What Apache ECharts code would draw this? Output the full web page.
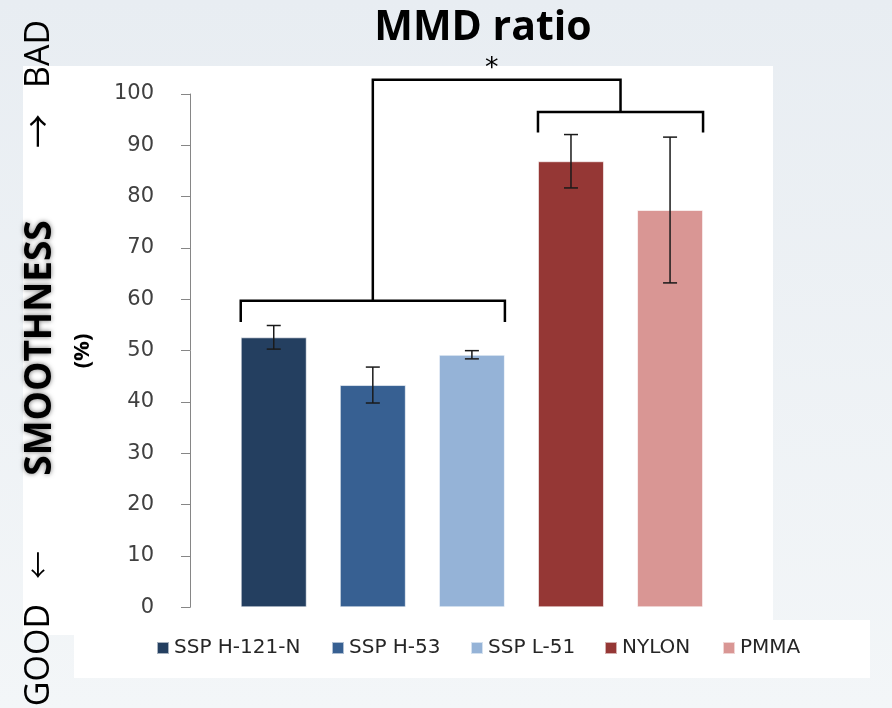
<!DOCTYPE html>
<html><head><meta charset="utf-8">
<script src="https://cdn.jsdelivr.net/npm/echarts@6/dist/echarts.min.js"></script>
<style>
html,body{margin:0;padding:0;width:892px;height:708px;overflow:hidden;background:linear-gradient(#e8edf2,#f3f6f8);}
#c{width:892px;height:708px;}
</style>
</head><body><div id="c"></div>
<script>
// ---- data ----
const categories = ['SSP H-121-N', 'SSP H-53', 'SSP L-51', 'NYLON', 'PMMA'];
const meanValues = [52.6, 43.3, 49.2, 86.9, 77.4];
const errorValues = [2.3, 3.5, 0.8, 5.2, 14.2];
const barColors = ['#243f60', '#376092', '#95b3d7', '#953735', '#d99694'];
const yTickLabels = [0, 10, 20, 30, 40, 50, 60, 70, 80, 90, 100];
// significance brackets (category index ranges and value levels)
const bracketFrom = [0, 3];
const bracketTo = [2, 4];
const bracketLevel = [59.7, 96.5];
const bracketTickEnd = [55.6, 92.5];
const connectorLevel = 102.8;
const significanceMark = '*';

// ---- chart ----
const chart = echarts.init(document.getElementById('c'), null, {renderer: 'canvas'});
const BAR_W = 66;
const legendLefts = [151, 326, 465, 599, 717];

const barSeries = categories.map((name, i) => ({
  name: name,
  type: 'bar',
  stack: 'all',
  barWidth: BAR_W,
  itemStyle: {color: barColors[i], borderColor: 'rgba(255,255,255,0.6)', borderWidth: 1},
  data: categories.map((c, j) => (j === i ? meanValues[i] : '-')),
  z: 2
}));

const errorSeries = {
  type: 'custom',
  name: 'error',
  clip: false,
  z: 4,
  encode: {x: 0, y: [1, 2]},
  data: categories.map((c, i) => [i, meanValues[i] - errorValues[i], meanValues[i] + errorValues[i]]),
  renderItem: function (params, api) {
    const x = api.value(0);
    const lo = api.coord([x, api.value(1)]);
    const hi = api.coord([x, api.value(2)]);
    const cw = 7;
    const st = {stroke: '#1a1a1a', lineWidth: 1.5};
    return {type: 'group', children: [
      {type: 'line', shape: {x1: lo[0], y1: lo[1], x2: hi[0], y2: hi[1]}, style: st},
      {type: 'line', shape: {x1: lo[0] - cw, y1: lo[1], x2: lo[0] + cw, y2: lo[1]}, style: st},
      {type: 'line', shape: {x1: hi[0] - cw, y1: hi[1], x2: hi[0] + cw, y2: hi[1]}, style: st}
    ]};
  }
};

const bracketSeries = {
  type: 'custom',
  name: 'brackets',
  clip: false,
  z: 5,
  encode: {x: [0, 1], y: [2, 3]},
  data: bracketFrom.map((f, g) => [f, bracketTo[g], bracketLevel[g], bracketTickEnd[g]]),
  renderItem: function (params, api) {
    const half = BAR_W / 2;
    const l = api.coord([api.value(0), api.value(2)]);
    const r = api.coord([api.value(1), api.value(2)]);
    const t = api.coord([api.value(0), api.value(3)]);
    return {type: 'polyline', shape: {points: [
      [l[0] - half, t[1]], [l[0] - half, l[1]], [r[0] + half, r[1]], [r[0] + half, t[1]]
    ]}, style: {stroke: '#000', lineWidth: 2.5, fill: null}};
  }
};

const connectorSeries = {
  type: 'custom',
  name: 'connector',
  clip: false,
  z: 5,
  encode: {x: 0, y: 1},
  data: [[bracketFrom[0], connectorLevel]],
  renderItem: function (params, api) {
    const stems = bracketFrom.map((f, g) => {
      const a = api.coord([f, bracketLevel[g]]);
      const b = api.coord([bracketTo[g], bracketLevel[g]]);
      return [(a[0] + b[0]) / 2, a[1]];
    });
    const topY = api.coord([bracketFrom[0], connectorLevel])[1];
    return {type: 'group', children: [
      {type: 'polyline', shape: {points: [
        [stems[0][0], stems[0][1]], [stems[0][0], topY], [stems[1][0], topY], [stems[1][0], stems[1][1]]
      ]}, style: {stroke: '#000', lineWidth: 2.5, fill: null}},
      {type: 'text', x: (stems[0][0] + stems[1][0]) / 2 - 5, y: topY - 11,
        style: {text: significanceMark, fill: '#000', font: '27px "DejaVu Sans"',
          textAlign: 'center', textVerticalAlign: 'middle', align: 'center', verticalAlign: 'middle'}}
    ]};
  }
};

function rotText(text, x, y, font, extra) {
  return {
    type: 'text', x: x, y: y, rotation: Math.PI / 2, z: 50,
    style: Object.assign({text: text, font: font, fill: '#000',
      textAlign: 'center', textVerticalAlign: 'middle', align: 'center', verticalAlign: 'middle'}, extra || {})
  };
}

const option = {
  animation: false,
  backgroundColor: 'transparent',
  grid: {left: 224.2, right: 172.4, top: 94, bottom: 100.7, containLabel: false, outerBoundsMode: 'none'},
  xAxis: {
    type: 'category',
    data: categories,
    axisLine: {show: false},
    axisTick: {show: false},
    axisLabel: {show: false},
    splitLine: {show: false}
  },
  yAxis: {
    type: 'value',
    min: yTickLabels[0],
    max: yTickLabels[yTickLabels.length - 1],
    interval: yTickLabels[1] - yTickLabels[0],
    offset: 34.2,
    axisLine: {show: true, lineStyle: {color: '#868686', width: 1}},
    axisTick: {show: true, length: 9, lineStyle: {color: '#868686'}},
    splitLine: {show: false},
    axisLabel: {margin: 36, color: '#404040', fontSize: 21, fontFamily: 'DejaVu Sans'}
  },
  legend: categories.map((name, i) => ({
    data: [name],
    left: legendLefts[i],
    top: 633,
    icon: 'rect',
    itemWidth: 12,
    itemHeight: 12,
    itemGap: 5,
    selectedMode: false,
    textStyle: {fontFamily: 'DejaVu Sans', fontSize: 20, color: '#262626', lineHeight: 20}
  })),
  graphic: [
    {type: 'rect', z: -10, shape: {x: 23, y: 66, width: 750, height: 569}, style: {fill: '#fff'}},
    {type: 'rect', z: -10, shape: {x: 74, y: 620, width: 796, height: 58}, style: {fill: '#fff'}},
    {type: 'text', x: 483, y: 28, z: 50, style: {text: 'MMD ratio', font: 'bold 41px "Open Sans"', fill: '#000',
      textAlign: 'center', textVerticalAlign: 'middle', align: 'center', verticalAlign: 'middle'}},
    rotText('SMOOTHNESS', 40, 348, 'bold 37px "Open Sans"',
      {shadowBlur: 5, shadowColor: 'rgba(0,0,0,0.55)', textShadowBlur: 5, textShadowColor: 'rgba(0,0,0,0.55)'}),
    rotText('(%)', 83, 351, 'bold 22px "Open Sans"'),
    rotText('BAD', 39, 54, '34px "Open Sans"'),
    rotText('\u2192', 38, 131, '34px "Noto Sans CJK JP"'),
    rotText('\u2190', 38, 565, '28px "Noto Sans CJK JP"'),
    rotText('GOOD', 39, 655, '34px "Open Sans"')
  ],
  series: barSeries.concat([errorSeries, bracketSeries, connectorSeries])
};
chart.setOption(option);
</script>
</body></html>
